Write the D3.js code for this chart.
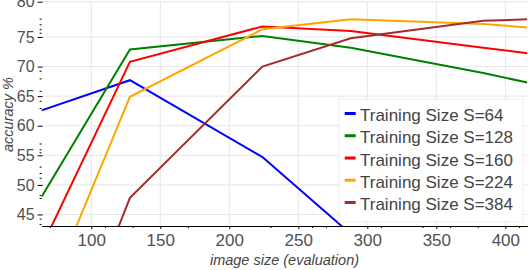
<!DOCTYPE html>
<html>
<head>
<meta charset="utf-8">
<script src="https://cdn.jsdelivr.net/npm/d3@7"></script>
<style>
  html, body { margin: 0; padding: 0; background: #fff; }
  svg { display: block; font-family: "Liberation Sans", Arial, sans-serif; }
  .grid line { stroke: #e6e6e6; stroke-width: 1; }
  .tick text { fill: #505050; }
</style>
</head>
<body>
<svg id="chart" width="528" height="270"></svg>
<script>
// evaluation image sizes (x) and accuracy per training size (y)
const evalSizes = [64, 128, 224, 288, 384, 416];
const trainSizes = ['S=64', 'S=128', 'S=160', 'S=224', 'S=384'];
const colors = ['#0000ff', '#008000', '#ff0000', '#ffa500', '#a52a2a'];

const accS64  = [62.6, 67.7, 54.7, 41.7, null, null];
const accS128 = [48.0, 72.9, 75.15, 73.2, 68.9, 67.3];
const accS160 = [39.5, 70.8, 76.5, 75.85, 73.2, 72.25];
const accS224 = [28.8, 64.9, 76.1, 77.5, 76.85, 76.35];
const accS384 = [10.0, 47.8, 70.0, 74.8, 77.3, 77.5];
const accAll = [accS64, accS128, accS160, accS224, accS384];

const xTicks = [100, 150, 200, 250, 300, 350, 400];
const xMinor = [70, 110, 130, 170, 230, 260, 270, 310, 340, 360, 380, 410];
const yTicks = [45, 50, 55, 60, 65, 70, 75, 80];
const yMinor = [77.6, 76.8, 76.1, 75.6, 69.3, 68.0, 65.9, 64.2, 63.0,
                57.0, 56.0, 55.5, 53.1, 52.0, 51.2, 48.3, 47.8, 44.3, 43.4];

const svg = d3.select('#chart');
const L = 41.6, R = 527.4, T = 1.7, B = 226;

const x = d3.scaleLinear().domain([64, 416]).range([L, R]);
// top band (75-80) is drawn slightly stretched in the original
const y = d3.scaleLinear().domain([43.05, 75, 80]).range([B, 37, T]);

// grid
const grid = svg.append('g').attr('class', 'grid');
grid.selectAll('.gx').data(xTicks).join('line')
  .attr('x1', d => x(d)).attr('x2', d => x(d)).attr('y1', T).attr('y2', B);
grid.selectAll('.gy').data(yTicks).join('line')
  .attr('x1', L).attr('x2', R).attr('y1', d => y(d)).attr('y2', d => y(d));

// series
svg.append('clipPath').attr('id', 'clip')
  .append('rect').attr('x', L).attr('y', T).attr('width', R - L).attr('height', B - T);

const line = d3.line()
  .defined(d => d[1] != null)
  .x(d => x(d[0])).y(d => y(d[1]));

svg.append('g').attr('clip-path', 'url(#clip)')
  .selectAll('path').data(accAll).join('path')
    .attr('d', vals => line(evalSizes.map((s, i) => [s, vals[i]])))
    .attr('fill', 'none')
    .attr('stroke', (_, i) => colors[i])
    .attr('stroke-width', 2);

// axes
const xAxis = svg.append('g').attr('transform', `translate(0,${B})`)
  .call(d3.axisBottom(x).tickValues(xTicks).tickSize(3).tickSizeOuter(0).tickPadding(5));
xAxis.select('.domain').attr('stroke', '#000');
xAxis.selectAll('text').attr('font-size', 17);
svg.append('g').attr('transform', `translate(0,${B})`)
  .call(d3.axisBottom(x).tickValues(xMinor).tickSize(2).tickFormat(''))
  .select('.domain').remove();

const yAxis = svg.append('g').attr('transform', `translate(${L + 1},0)`)
  .call(d3.axisLeft(y).tickValues(yTicks).tickSize(5).tickPadding(3));
yAxis.select('.domain').remove();
yAxis.selectAll('text').attr('font-size', 16);
svg.append('g').attr('transform', `translate(${L},0)`)
  .call(d3.axisLeft(y).tickValues(yMinor).tickSize(2).tickFormat(''))
  .select('.domain').remove();

// axis titles
svg.append('text')
  .attr('x', (L + R) / 2).attr('y', 265)
  .attr('text-anchor', 'middle')
  .attr('font-size', 14.5).attr('font-style', 'italic').attr('fill', '#444')
  .text('image size (evaluation)');
svg.append('text')
  .attr('transform', 'translate(12.5,114.5) rotate(-90)')
  .attr('text-anchor', 'middle')
  .attr('font-size', 14.5).attr('font-style', 'italic').attr('fill', '#444')
  .text('accuracy %');

// legend
const lg = svg.append('g');
lg.append('rect')
  .attr('x', 339).attr('y', 99).attr('width', 184).attr('height', 123)
  .attr('fill', '#fff').attr('stroke', '#eeeeee');
const items = lg.selectAll('g.item').data(trainSizes).join('g')
  .attr('transform', (_, i) => `translate(0,${121 + i * 22.25})`);
items.append('line')
  .attr('x1', 344.7).attr('x2', 355.7).attr('y1', -7.5).attr('y2', -7.5)
  .attr('stroke', (_, i) => colors[i]).attr('stroke-width', 3);
items.append('text')
  .attr('x', 360).attr('y', 0)
  .attr('font-size', 17).attr('fill', '#444')
  .text(d => `Training Size ${d}`);
</script>
</body>
</html>
